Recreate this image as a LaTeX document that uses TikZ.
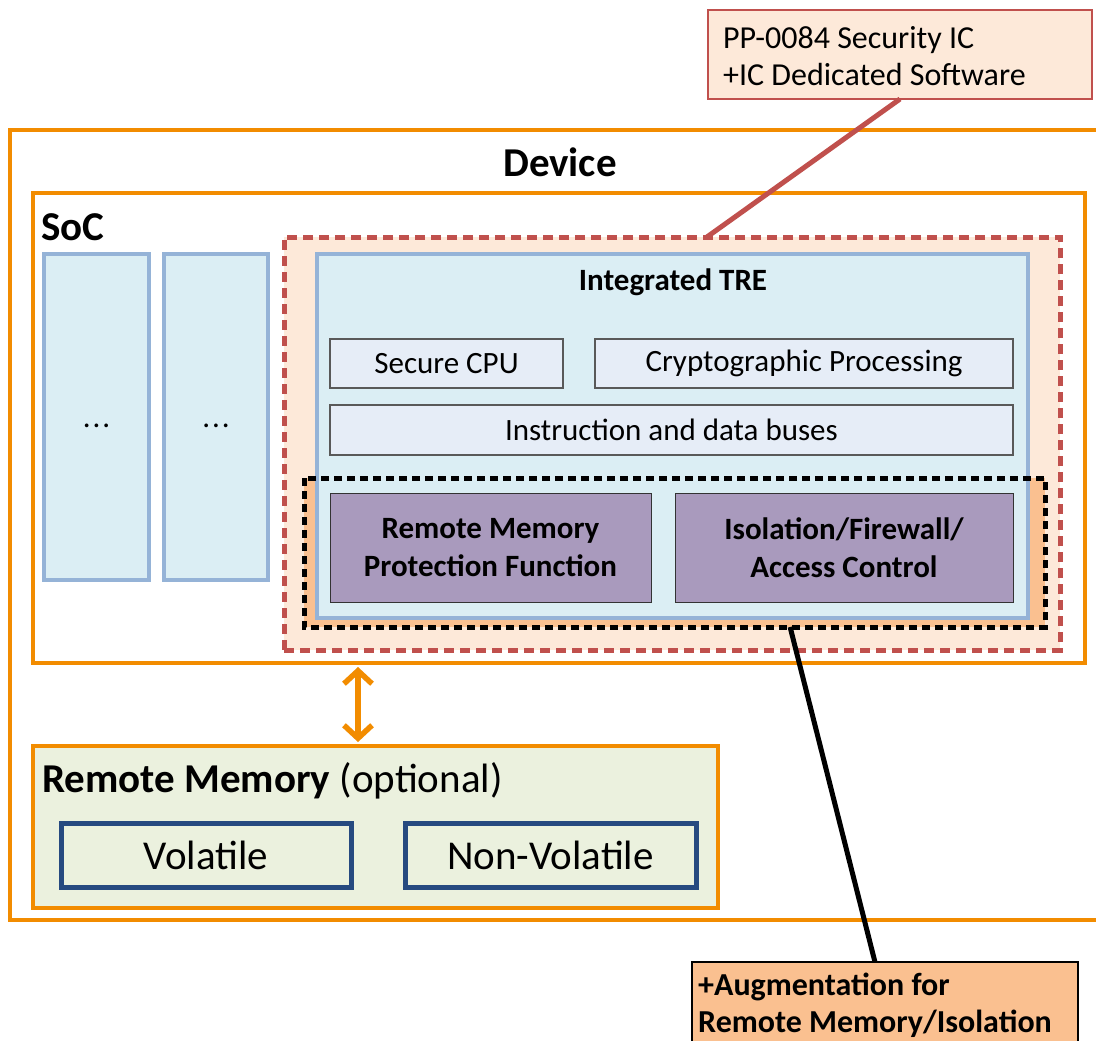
\documentclass[tikz,border=0pt]{standalone}
\usepackage{fontspec}
\setmainfont{Carlito}
\usetikzlibrary{arrows.meta,calc}
\definecolor{DevOrange}{RGB}{242,140,0}
\definecolor{IcPeach}{RGB}{253,233,217}
\definecolor{IcRed}{RGB}{192,80,77}
\definecolor{TreFill}{RGB}{219,238,244}
\definecolor{TreLine}{RGB}{149,179,215}
\definecolor{UnitFill}{RGB}{230,237,247}
\definecolor{FuncPurple}{RGB}{169,154,189}
\definecolor{AugOrange}{RGB}{250,192,144}
\definecolor{MemGreen}{RGB}{235,241,222}
\definecolor{MemBlue}{RGB}{38,74,128}
\newcommand\sizeL{\fontsize{41}{49}\selectfont}
\newcommand\sizeS{\fontsize{31}{38}\selectfont}
\newcommand\sizeC{\fontsize{32}{37}\selectfont}

\begin{document}
\begin{tikzpicture}[x=1pt,y=-1pt,
  box/.style={anchor=north west,inner sep=0pt,outer sep=0pt},
  orangebox/.style={draw=DevOrange,line width=4.5pt,fill=white},
  column/.style={draw=TreLine,line width=4pt,fill=TreFill,font=\sizeS},
  unit/.style={draw=black!65,line width=1.2pt,fill=UnitFill,font=\sizeS},
  func/.style={draw=black!80,line width=1pt,fill=FuncPurple,font=\sizeS\bfseries,align=center},
  memcell/.style={draw=MemBlue,line width=5pt,fill=MemGreen,font=\sizeL}]
\useasboundingbox (0,0) rectangle (1096,1041);
\clip (0,0) rectangle (1096,1041);

% device and soc
\node[box,orangebox,minimum width=1100,minimum height=790] (device) at (10,130) {};
\node[font=\sizeL\bfseries] (devlbl) at (560,162) {Device};
\node[box,orangebox,minimum width=1052,minimum height=470] (soc) at (33,193) {};
\node[anchor=west,inner sep=0pt,font=\sizeL\bfseries] (soclbl) at (41,227) {SoC};
\node[box,column,minimum width=105,minimum height=326] (colA) at (44,254) {};
\node[box,column,minimum width=104,minimum height=326] (colB) at (164,254) {};
\node[font=\sizeS] (dotsA) at ($(colA.center)+(0,9)$) {.\kern2pt.\kern2pt.};
\node[font=\sizeS] (dotsB) at ($(colB.center)+(0,9)$) {.\kern2pt.\kern2pt.};

% security ic area
\node[box,fill=IcPeach,draw=IcRed,line width=5pt,dash pattern=on 10pt off 6pt,minimum width=776,minimum height=413] (ic) at (284,237) {};
\node[box,fill=AugOrange,minimum width=741,minimum height=149] (augfill) at (304,478) {};
\node[box,column,minimum width=711,minimum height=364] (tre) at (317,254) {};
\node[font=\sizeS\bfseries] (trelbl) at (673,282) {Integrated TRE};
\draw[line width=5pt,dash pattern=on 8pt off 5pt] (augfill.north west) rectangle (augfill.south east);

\node[box,unit,minimum width=233,minimum height=49] (cpu) at (330,339) {Secure CPU};
\node[box,unit,minimum width=418,minimum height=49] (crypto) at (595,339) {Cryptographic Processing};
\node[box,unit,minimum width=683,minimum height=50] (bus) at (330,405) {Instruction and data buses};
\node[box,func,minimum width=321,minimum height=109] (rmpf) at (330,493) {Remote Memory\\Protection Function};
\node[box,func,minimum width=338,minimum height=109] (iso) at (675,493) {Isolation/Firewall/\\Access Control};

% remote memory
\node[box,orangebox,fill=MemGreen,minimum width=685,minimum height=162] (rmem) at (33,746) {};
\node[anchor=west,inner sep=0pt,font=\sizeL] (rmemlbl) at (42,781) {\textbf{Remote Memory} (optional)};
\node[box,memcell,minimum width=290,minimum height=64] (vol) at (61,823) {Volatile};
\node[box,memcell,minimum width=291,minimum height=64] (nvol) at (405,823) {Non-Volatile};

\coordinate (arrx) at (358,0);
\draw[DevOrange,line width=5.5pt,line cap=round,shorten <=4pt,shorten >=4pt,
  {Straight Barb[length=13pt,width=28pt]}-{Straight Barb[length=13pt,width=28pt]}]
  (soc.south -| arrx) -- (rmem.north -| arrx);

% callouts
\node[box,fill=IcPeach,draw=IcRed,line width=2pt,minimum width=384,minimum height=89] (ppic) at (708,10) {};
\node[anchor=west,align=left,inner sep=0pt,font=\sizeC] (ppiclbl) at (723,56) {PP-0084 Security IC\\+IC Dedicated Software};
\draw[IcRed,line width=5pt] (ppic.south) -- ($(ic.north west)!0.545!(ic.north east)$);

\node[box,fill=AugOrange,draw=black,line width=2pt,minimum width=386,minimum height=100] (augnote) at (692,962) {};
\node[anchor=west,align=left,inner sep=0pt,font=\fontsize{32}{37}\selectfont\bfseries] (augnotelbl) at (698,1005) {+Augmentation for\\Remote Memory/Isolation};
\draw[line width=5pt] ($(augfill.south west)!0.656!(augfill.south east)$) -- ($(augnote.north west)!0.474!(augnote.north east)$);

\end{tikzpicture}
\end{document}
